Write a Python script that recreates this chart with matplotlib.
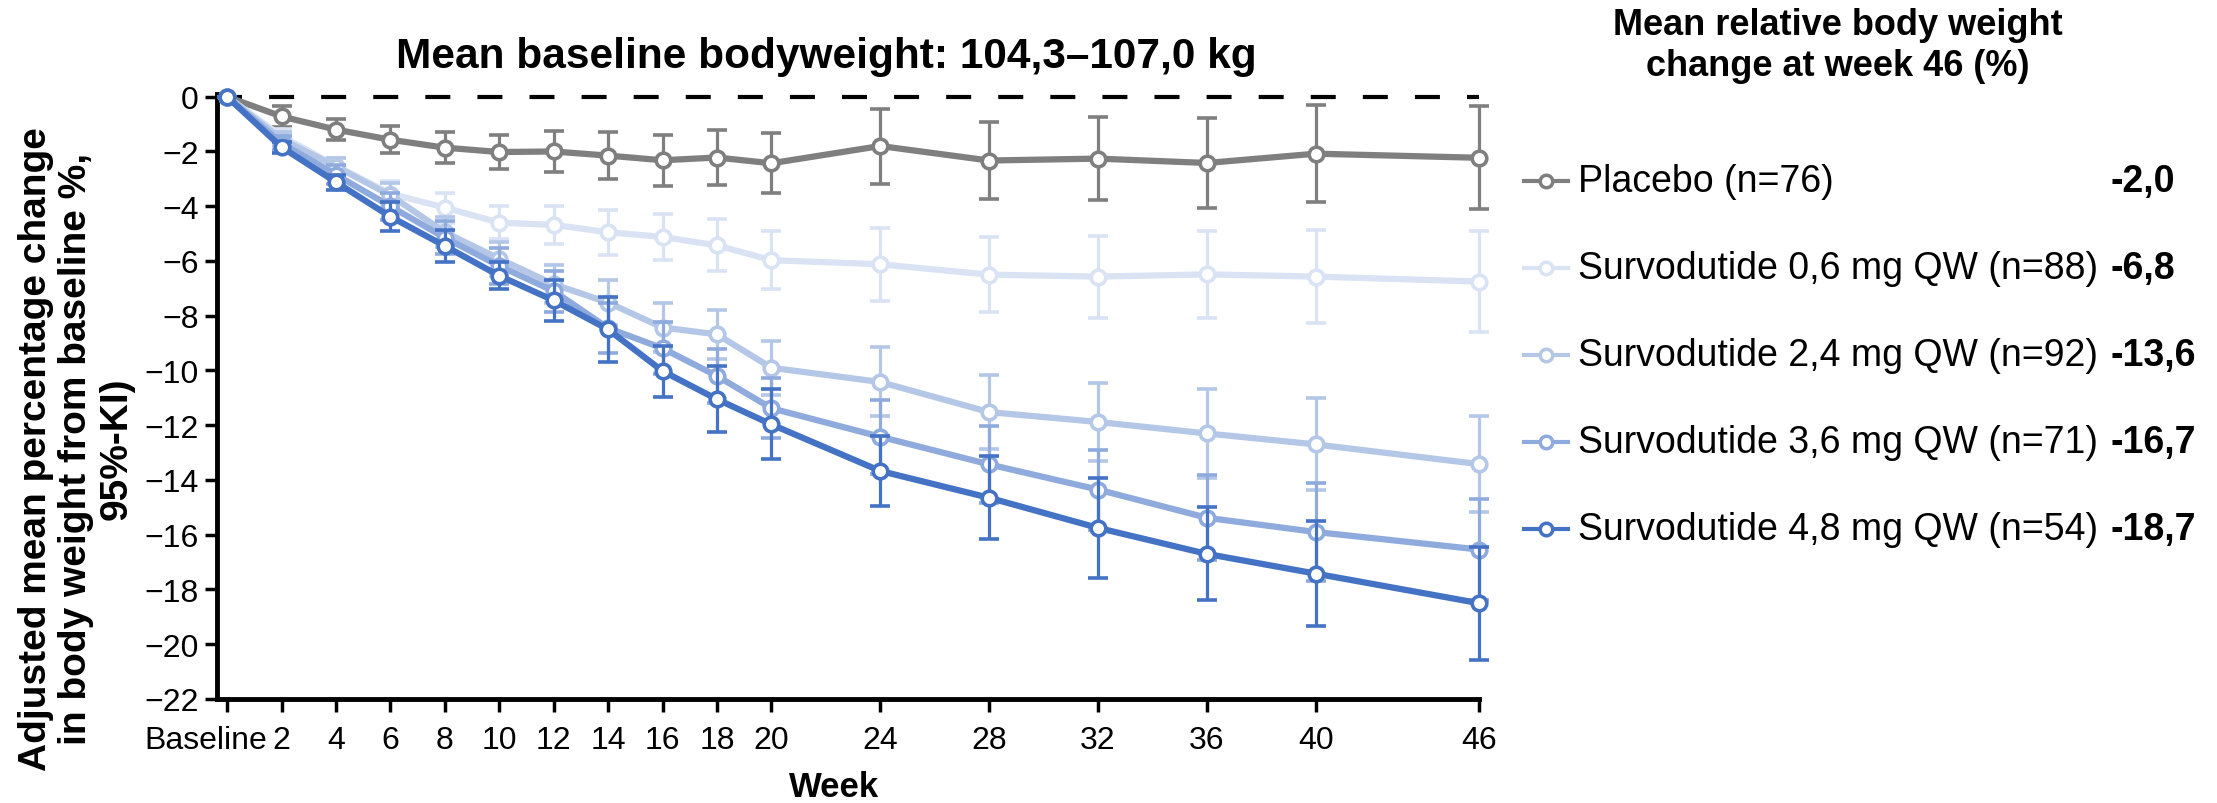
import matplotlib
matplotlib.use("Agg")
import matplotlib.pyplot as plt
from matplotlib.lines import Line2D
from matplotlib.transforms import ScaledTranslation

plt.rcParams["font.family"] = ["Liberation Sans", "DejaVu Sans"]

# ------------------------------------------------------------------
# data
# ------------------------------------------------------------------
weeks = [0, 2, 4, 6, 8, 10, 12, 14, 16, 18, 20, 24, 28, 32, 36, 40, 46]
week_labels = ["Baseline"] + [str(w) for w in weeks[1:]]

placebo = [0, -0.72, -1.2, -1.57, -1.86, -2.02, -2.0, -2.15, -2.32, -2.22,
           -2.43, -1.8, -2.33, -2.26, -2.42, -2.08, -2.23]
placebo_ci = [0, 0.38, 0.38, 0.5, 0.56, 0.62, 0.75, 0.86, 0.93, 1.0,
              1.1, 1.37, 1.42, 1.52, 1.65, 1.77, 1.88]

surv_06 = [0, -1.44, -2.52, -3.54, -4.05, -4.6, -4.68, -4.95, -5.12, -5.43,
           -5.97, -6.12, -6.5, -6.57, -6.49, -6.57, -6.75]
surv_06_ci = [0, 0.25, 0.3, 0.45, 0.55, 0.6, 0.7, 0.83, 0.85, 0.95,
              1.05, 1.33, 1.37, 1.5, 1.6, 1.69, 1.86]

surv_24 = [0, -1.55, -2.55, -3.6, -4.95, -5.92, -6.85, -7.52, -8.43, -8.68,
           -9.9, -10.42, -11.52, -11.88, -12.3, -12.7, -13.42]
surv_24_ci = [0, 0.25, 0.3, 0.45, 0.55, 0.62, 0.7, 0.82, 0.89, 0.9,
              0.98, 1.26, 1.36, 1.44, 1.61, 1.68, 1.76]

surv_36 = [0, -1.7, -2.85, -4.0, -5.15, -6.18, -7.1, -8.45, -9.19, -10.2,
           -11.38, -12.42, -13.43, -14.35, -15.38, -15.9, -16.54]
surv_36_ci = [0, 0.25, 0.35, 0.5, 0.6, 0.65, 0.75, 0.9, 0.95, 1.0,
              1.1, 1.35, 1.4, 1.46, 1.55, 1.8, 1.83]

surv_48 = [0, -1.84, -3.12, -4.38, -5.45, -6.54, -7.44, -8.5, -10.02, -11.05,
           -11.97, -13.67, -14.65, -15.75, -16.7, -17.42, -18.5]
surv_48_ci = [0, 0.2, 0.27, 0.52, 0.6, 0.5, 0.76, 1.2, 0.93, 1.2,
              1.28, 1.28, 1.52, 1.83, 1.7, 1.92, 2.07]

group_labels = ["Placebo (n=76)",
                "Survodutide 0,6 mg QW (n=88)",
                "Survodutide 2,4 mg QW (n=92)",
                "Survodutide 3,6 mg QW (n=71)",
                "Survodutide 4,8 mg QW (n=54)"]
week46_change = ["-2,0", "-6,8", "-13,6", "-16,7", "-18,7"]

colors = ["#7f7f7f", "#dae3f3", "#b4c7e7", "#8faadc", "#4472c4"]
series = [placebo, surv_06, surv_24, surv_36, surv_48]
errors = [placebo_ci, surv_06_ci, surv_24_ci, surv_36_ci, surv_48_ci]

# ------------------------------------------------------------------
# figure
# ------------------------------------------------------------------
W, H = 2217, 804
fig = plt.figure(figsize=(W / 100, H / 100), dpi=100)
ax = fig.add_axes([217 / W, 104 / H, 1262 / W, 605 / H])

ax.axhline(0, color="black", lw=3, dashes=(6, 6.5), zorder=1)

# light series first, darkest on top, placebo last
order = [1, 2, 3, 4, 0]
for i in order:
    ax.errorbar(weeks, series[i], yerr=errors[i], color=colors[i],
                lw=4.5, marker="o", ms=10.5, mfc="white", mec=colors[i],
                mew=2.6, elinewidth=2.3, capsize=7.5, capthick=2.6,
                clip_on=False, zorder=3 + i)

ax.set_xlim(-0.37, 46)
ax.set_ylim(-22, 0.1)
ax.set_yticks(range(-22, 1, 2))
ax.set_xticks(weeks)
ax.set_xticklabels(week_labels)

for side in ("top", "right"):
    ax.spines[side].set_visible(False)
for side in ("left", "bottom"):
    ax.spines[side].set_linewidth(3.5)

ax.tick_params(axis="both", direction="out", length=9, width=2.5,
               labelsize=23)
ax.tick_params(axis="x", pad=10)
ax.tick_params(axis="y", pad=4)

# shift "Baseline" a bit left, as in the source layout
base_lbl = ax.get_xticklabels()[0]
base_lbl.set_transform(base_lbl.get_transform()
                       + ScaledTranslation(-0.21, 0, fig.dpi_scale_trans))

# titles / axis labels
fig.text(826 / W, 1 - 57 / H, "Mean baseline bodyweight: 104,3\u2013107,0 kg",
         ha="center", va="center", fontsize=30.5, fontweight="bold")
fig.text(834 / W, 1 - 788 / H, "Week", ha="center", va="center",
         fontsize=25, fontweight="bold")
fig.text(76 / W, 1 - 449 / H,
         "Adjusted mean percentage change\nin body weight from baseline %,\n95%-KI)",
         ha="center", va="center", rotation=90, fontsize=28,
         fontweight="bold", multialignment="center", linespacing=1.15)

# right-hand legend with week-46 values
fig.text(1838 / W, 1 - 46 / H,
         "Mean relative body weight\nchange at week 46 (%)",
         ha="center", va="center", fontsize=26, fontweight="bold",
         linespacing=1.2)

row_y0, row_dy = 182, 87
for k in range(len(group_labels)):
    y = 1 - (row_y0 + k * row_dy) / H
    fig.add_artist(Line2D([1524 / W, 1568 / W], [y, y],
                          transform=fig.transFigure, color=colors[k],
                          lw=3, zorder=5))
    fig.add_artist(Line2D([1546 / W], [y], transform=fig.transFigure,
                          color=colors[k], marker="o", ms=9, mfc="white",
                          mec=colors[k], mew=2.5, lw=0, zorder=6))
    fig.text(1578 / W, y, group_labels[k], ha="left", va="center",
             fontsize=27)
    fig.text(2110 / W, y, week46_change[k], ha="left", va="center",
             fontsize=27, fontweight="bold")

fig.savefig("out.png", dpi=100)
